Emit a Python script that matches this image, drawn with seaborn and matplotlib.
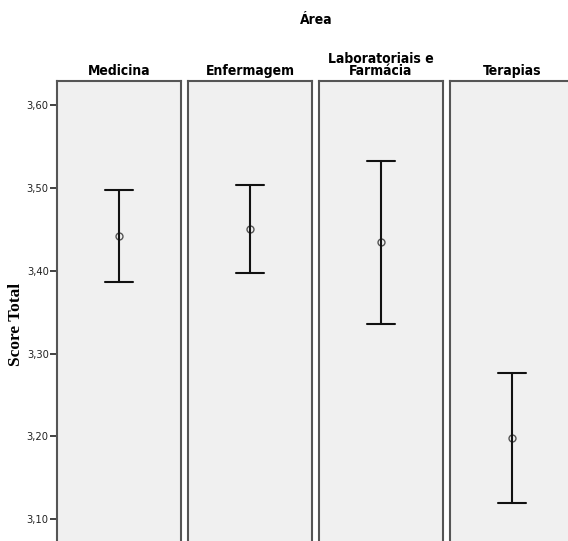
import pandas as pd
import matplotlib
matplotlib.use("Agg")
import matplotlib.pyplot as plt
from matplotlib.ticker import FuncFormatter
import seaborn as sns

# summary values (mean and 95% CI)
areas = ["Medicina", "Enfermagem", "Laboratoriais e\nFarmácia", "Terapias"]
means = [3.442, 3.450, 3.435, 3.198]
lower = [3.386, 3.397, 3.336, 3.120]
upper = [3.498, 3.504, 3.533, 3.276]
yticks = [3.10, 3.20, 3.30, 3.40, 3.50, 3.60]

sns.set_style("white")
plt.rcParams["font.family"] = ["DejaVu Sans"]
plt.rcParams["font.stretch"] = "condensed"
plt.rcParams["text.color"] = "black"

W, H = 568, 541
fig = plt.figure(figsize=(W / 100, H / 100), dpi=100)

left0, step, width = 57, 131, 124
top, bottom = 81, 541
edge = "#555555"

for i, area in enumerate(areas):
    ax = fig.add_axes([(left0 + i * step) / W, (H - bottom) / H,
                       width / W, (bottom - top) / H])
    # three values per panel: median -> mean, min/max -> CI ends
    sub = pd.DataFrame({"area": [area] * 3,
                        "score": [lower[i], means[i], upper[i]]})
    sns.pointplot(data=sub, x="area", y="score", estimator="median",
                  errorbar=("pi", 100), capsize=0.23, color="black",
                  markers="o", linestyles="none", ax=ax,
                  err_kws={"linewidth": 1.5, "color": "#111111"},
                  markersize=5, markerfacecolor="#f0f0f0",
                  markeredgecolor="#555555", markeredgewidth=1.0)
    ax.set_xlim(-0.5, 0.5)
    ax.set_ylim(3.0738, 3.629)
    ax.set_facecolor("#f0f0f0")
    ax.set_xlabel("")
    ax.set_ylabel("")
    ax.set_xticks([])
    for s in ["left", "right", "top"]:
        ax.spines[s].set_visible(True)
        ax.spines[s].set_color(edge)
        ax.spines[s].set_linewidth(1.5)
    ax.spines["bottom"].set_visible(False)
    ax.set_title(area, fontsize=10, fontweight="bold", pad=4,
                 linespacing=0.9, color="black", fontstretch="condensed")
    if i == 0:
        ax.set_yticks(yticks)
        ax.yaxis.set_major_formatter(
            FuncFormatter(lambda v, p: f"{v:.2f}".replace(".", ",")))
        ax.tick_params(axis="y", left=True, length=5, width=1.3,
                       color="#333333", labelcolor="#222222", pad=1,
                       labelsize=8)
        ax.set_ylabel("Score Total", family=["Liberation Serif", "DejaVu Serif"],
                      fontsize=12.5, fontweight="bold", color="black",
                      fontstretch="normal")
        ax.yaxis.set_label_coords(-0.27, 0.47)
    else:
        ax.set_yticks([])

fig.text(316 / W, 1 - 20 / H, "Área", ha="center", va="center",
         fontsize=10, fontweight="bold", fontstretch="condensed")

fig.savefig("out.png", dpi=100)
